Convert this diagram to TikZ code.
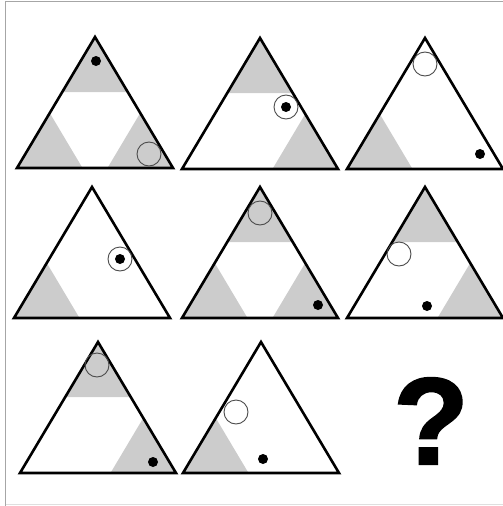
\documentclass[tikz,border=0pt]{standalone}
\usepackage{fontspec}
\newfontfamily\HeiTi[BoldFeatures={FakeBold=1.5}]{Liberation Sans}
\begin{document}
\begin{tikzpicture}[x=1pt,y=-1pt]
		\def\BanKuan{78}%底边一半
		\def\GaoDu{131}%三角形高
		\def\BiLi{.42}%阴影比例
		\tikzset{bian/.style={line width=2.6pt,line join=miter},
			quan/.style={black!70,line width=.9pt},
			dian/.style={fill=black}}
		\useasboundingbox (0,0) rectangle (503,506);
		\draw[gray!70,line width=1pt] (5.5,507)--(5.5,1)--(504,1);
		\draw[gray!25] (5.5,504.5)--(504,504.5);
		% 顶点坐标/上/左/右 阴影
		\foreach \x/\y/\T/\L/\R in {95/37/1/1/1,260/38/1/0/1,425/38/0/1/0,92/187/0/1/0,
			260/187/1/1/1,425/187/1/0/1,98/342/1/0/1,261/342/0/1/0}{
			\begin{scope}[shift={(\x,\y)}]
				\ifnum\T=1 \fill[black!20] (0,0)--({-\BiLi*\BanKuan},{\BiLi*\GaoDu})--({\BiLi*\BanKuan},{\BiLi*\GaoDu})--cycle;\fi
				\ifnum\L=1 \fill[black!20] (-\BanKuan,\GaoDu)--({-\BanKuan+2*\BiLi*\BanKuan},\GaoDu)--({-\BanKuan+\BiLi*\BanKuan},{\GaoDu-\BiLi*\GaoDu})--cycle;\fi
				\ifnum\R=1 \fill[black!20] (\BanKuan,\GaoDu)--({\BanKuan-2*\BiLi*\BanKuan},\GaoDu)--({\BanKuan-\BiLi*\BanKuan},{\GaoDu-\BiLi*\GaoDu})--cycle;\fi
				\draw[bian] (0,0)--(-\BanKuan,\GaoDu)--(\BanKuan,\GaoDu)--cycle;
			\end{scope}
		}
		% 圆圈与黑点
		\draw[quan] (149,154) circle[radius=12pt];
		\fill[dian] (96,61) circle[radius=5pt];
		\draw[quan] (286,107) circle[radius=12pt];
		\fill[dian] (286,107) circle[radius=5pt];
		\draw[quan] (425,64) circle[radius=12pt];
		\fill[dian] (480,154) circle[radius=5pt];
		\draw[quan] (120,259) circle[radius=12pt];
		\fill[dian] (120,259) circle[radius=5pt];
		\draw[quan] (260,213) circle[radius=12pt];
		\fill[dian] (318,305) circle[radius=5pt];
		\draw[quan] (399,254) circle[radius=12pt];
		\fill[dian] (427,306) circle[radius=5pt];
		\draw[quan] (97,365) circle[radius=12pt];
		\fill[dian] (153,462) circle[radius=5pt];
		\draw[quan] (236,412) circle[radius=12pt];
		\fill[dian] (263,459) circle[radius=5pt];
		\node[inner sep=0pt,font=\HeiTi\bfseries\fontsize{124}{124}\selectfont] (wenhao) at (431,421) {?};
\end{tikzpicture}
\end{document}
